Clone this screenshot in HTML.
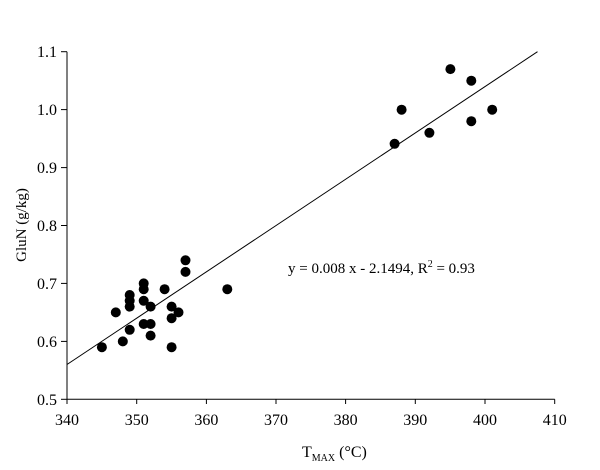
<!DOCTYPE html>
<html><head><meta charset="utf-8"><style>body{margin:0;background:#fff}svg{display:block}text{font-family:"Liberation Serif",serif;fill:#000}</style></head>
<body>
<svg width="600" height="470" viewBox="0 0 600 470">
<g stroke="#000" stroke-width="1" fill="none">
<line x1="67" y1="51.7" x2="67" y2="399.3"/>
<line x1="67" y1="399.3" x2="554.7" y2="399.3"/>
<line x1="61" y1="51.7" x2="67" y2="51.7"/>
<line x1="61" y1="109.6" x2="67" y2="109.6"/>
<line x1="61" y1="167.6" x2="67" y2="167.6"/>
<line x1="61" y1="225.5" x2="67" y2="225.5"/>
<line x1="61" y1="283.4" x2="67" y2="283.4"/>
<line x1="61" y1="341.4" x2="67" y2="341.4"/>
<line x1="61" y1="399.3" x2="67" y2="399.3"/>
<line x1="67" y1="399.3" x2="67" y2="404"/>
<line x1="136.7" y1="399.3" x2="136.7" y2="404"/>
<line x1="206.4" y1="399.3" x2="206.4" y2="404"/>
<line x1="276" y1="399.3" x2="276" y2="404"/>
<line x1="345.6" y1="399.3" x2="345.6" y2="404"/>
<line x1="415.3" y1="399.3" x2="415.3" y2="404"/>
<line x1="485" y1="399.3" x2="485" y2="404"/>
<line x1="554.7" y1="399.3" x2="554.7" y2="404"/>
<line x1="67" y1="364.5" x2="537.5" y2="51.7"/>
</g>
<g font-size="16" text-anchor="end">
<text x="57" y="57">1.1</text><text x="57" y="115">1.0</text><text x="57" y="173">0.9</text><text x="57" y="231">0.8</text><text x="57" y="289">0.7</text><text x="57" y="347">0.6</text><text x="57" y="405">0.5</text>
</g>
<g font-size="16" text-anchor="middle">
<text x="67" y="425">340</text><text x="136.7" y="425">350</text><text x="206.4" y="425">360</text><text x="276" y="425">370</text><text x="345.6" y="425">380</text><text x="415.3" y="425">390</text><text x="485" y="425">400</text><text x="554.7" y="425">410</text>
</g>
<text x="26" y="225" font-size="15" text-anchor="middle" transform="rotate(-90 26 225)">GluN (g/kg)</text>
<text x="302" y="457" font-size="16">T<tspan font-size="10" dy="4">MAX</tspan><tspan dy="-4">  (°C)</tspan></text>
<text x="288" y="273" font-size="15">y = 0.008 x - 2.1494, R<tspan font-size="10" dy="-6">2</tspan><tspan dy="6"> = 0.93</tspan></text>
<g fill="#000">
<circle cx="101.9" cy="347.2" r="5"/><circle cx="115.8" cy="312.4" r="5"/><circle cx="122.8" cy="341.4" r="5"/>
<circle cx="129.7" cy="329.8" r="5"/><circle cx="129.7" cy="306.6" r="5"/><circle cx="129.7" cy="300.8" r="5"/><circle cx="129.7" cy="295" r="5"/>
<circle cx="143.7" cy="283.4" r="5"/><circle cx="143.7" cy="289.2" r="5"/><circle cx="143.7" cy="300.8" r="5"/><circle cx="143.7" cy="324" r="5"/>
<circle cx="150.6" cy="306.6" r="5"/><circle cx="150.6" cy="324" r="5"/><circle cx="150.6" cy="335.6" r="5"/>
<circle cx="164.6" cy="289.2" r="5"/><circle cx="171.6" cy="306.6" r="5"/><circle cx="171.6" cy="318.2" r="5"/><circle cx="171.6" cy="347.2" r="5"/>
<circle cx="178.5" cy="312.4" r="5"/><circle cx="185.5" cy="260.3" r="5"/><circle cx="185.5" cy="271.9" r="5"/>
<circle cx="227.3" cy="289.2" r="5"/><circle cx="394.6" cy="143.8" r="5"/><circle cx="401.6" cy="109.7" r="5"/>
<circle cx="429.4" cy="132.8" r="5"/><circle cx="450.4" cy="69.1" r="5"/><circle cx="471.3" cy="80.7" r="5"/>
<circle cx="471.3" cy="121.2" r="5"/><circle cx="492.2" cy="109.7" r="5"/>
</g>
</svg>
</body></html>
